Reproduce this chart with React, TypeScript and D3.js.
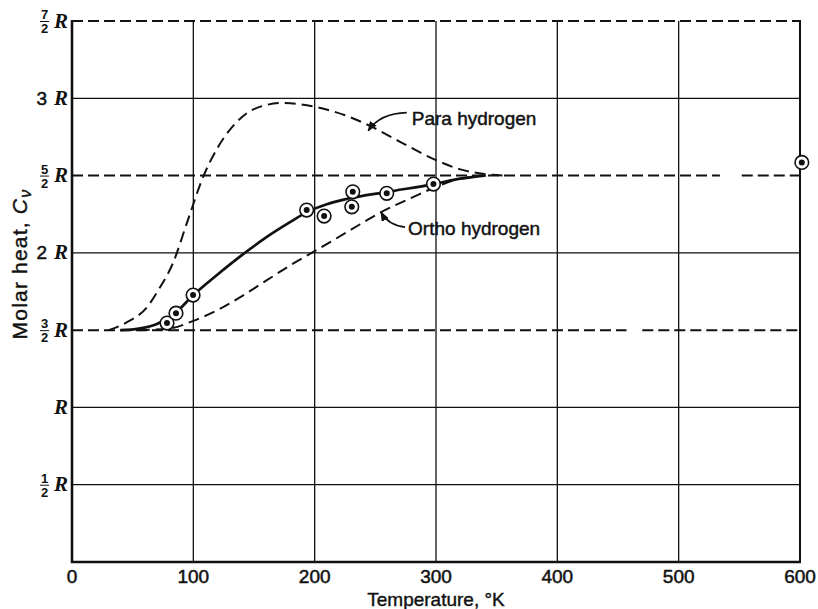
import React from 'react';
import * as d3 from 'd3';

const W = 818;
const H = 609;

// axis ticks
const xTicks = [0, 100, 200, 300, 400, 500, 600];
const yTickValues = [0.5, 1, 1.5, 2, 2.5, 3, 3.5];
const yTickNum = ['1', '', '3', '', '5', '', '7'];
const yTickDen = ['2', '', '2', '', '2', '', '2'];
const yTickWhole = ['', '', '', '2', '', '3', ''];
const dashedLevels = [1.5, 2.5, 3.5];
const solidLevels = [0.5, 1, 2, 3];
const vGrid = [100, 200, 300, 400, 500];

// Para hydrogen (dashed)
const paraT = [30, 45, 62, 72, 83, 95, 108, 120, 135, 150, 174, 200, 225, 246, 270, 300, 320, 340, 355];
const paraC = [1.5, 1.55, 1.65, 1.77, 1.93, 2.2, 2.49, 2.68, 2.84, 2.93, 2.97, 2.945, 2.89, 2.82, 2.72, 2.6, 2.54, 2.51, 2.5];

// Ortho hydrogen (dashed)
const orthoT = [55, 80, 100, 120, 138, 160, 180, 202, 230, 254, 281, 301, 320, 345];
const orthoC = [1.5, 1.51, 1.56, 1.63, 1.71, 1.82, 1.92, 2.02, 2.15, 2.26, 2.36, 2.43, 2.48, 2.5];

// Normal hydrogen (solid)
const normalT = [40, 55, 70, 85, 100, 120, 140, 160, 180, 194, 210, 227, 260, 298, 320, 340];
const normalC = [1.5, 1.51, 1.54, 1.61, 1.727, 1.86, 1.985, 2.1, 2.2, 2.265, 2.315, 2.35, 2.395, 2.445, 2.48, 2.5];

// measured points
const pointsT = [78.3, 85.7, 99.8, 193.4, 207.8, 231.4, 230.6, 259.4, 297.9, 601.5];
const pointsC = [1.546, 1.61, 1.727, 2.277, 2.238, 2.395, 2.298, 2.385, 2.445, 2.585];

// annotations (data coordinates)
const paraLabel = { t: 280, c: 2.827, text: 'Para hydrogen' };
const paraArrow = [[275.9, 2.907], [253.8, 2.903], [244.2, 2.79]];
const orthoLabel = { t: 277, c: 2.115, text: 'Ortho hydrogen' };
const orthoArrow = [[274.5, 2.167], [260.4, 2.18], [254.7, 2.264]];

// gaps in the printed dashed lines
const levelGaps: Record<string, number[][]> = { '2.5': [[534, 552]], '1.5': [[457, 470]] };

const x = d3.scaleLinear().domain([0, 600]).range([72, 800]);
const y = d3.scaleLinear().domain([0, 3.5]).range([562, 21]);

const line = d3
  .line<number[]>()
  .x((d) => x(d[0]))
  .y((d) => y(d[1]))
  .curve(d3.curveMonotoneX);

const zip = (a: number[], b: number[]) => a.map((v, i) => [v, b[i]]);

const quad = (p: number[][]) =>
  `M${x(p[0][0])},${y(p[0][1])} Q${x(p[1][0])},${y(p[1][1])} ${x(p[2][0])},${y(p[2][1])}`;

const sans = "'Liberation Sans', Arial, sans-serif";
const serif = "'Liberation Serif', 'Times New Roman', serif";

function segments(level: number): number[][] {
  const gaps = levelGaps[String(level)] || [];
  const segs: number[][] = [];
  let start = 0;
  gaps.forEach((g) => {
    segs.push([start, g[0]]);
    start = g[1];
  });
  segs.push([start, 600]);
  return segs;
}

export default function App() {
  const ink = '#111';
  return (
    <svg
      width={W}
      height={H}
      viewBox={`0 0 ${W} ${H}`}
      style={{ position: 'absolute', left: 0, top: 0, background: '#fff' }}
    >
      <defs>
        <marker id="ah" viewBox="0 0 10 8" refX="9" refY="4" markerWidth="10" markerHeight="8" markerUnits="userSpaceOnUse" orient="auto">
          <path d="M0,0 L10,4 L0,8 z" fill={ink} />
        </marker>
      </defs>
      <rect x={0} y={0} width={W} height={H} fill="#fff" />

      {/* vertical grid */}
      {vGrid.map((t) => (
        <line key={'v' + t} x1={x(t)} x2={x(t)} y1={y(3.5)} y2={y(0)} stroke={ink} strokeWidth={1.3} />
      ))}
      {/* solid horizontal grid */}
      {solidLevels.map((v) => (
        <line key={'h' + v} x1={x(0)} x2={x(600)} y1={y(v)} y2={y(v)} stroke={ink} strokeWidth={1.3} />
      ))}
      {/* dashed horizontal lines */}
      {dashedLevels.map((v) =>
        segments(v).map((s, i) => (
          <line
            key={'d' + v + '-' + i}
            x1={x(s[0])}
            x2={x(s[1])}
            y1={y(v)}
            y2={y(v)}
            stroke={ink}
            strokeWidth={2}
            strokeDasharray="11,5"
          />
        ))
      )}

      {/* axes / frame */}
      <line x1={x(0)} x2={x(0)} y1={y(3.5) - 1} y2={y(0) + 1} stroke={ink} strokeWidth={2.6} />
      <line x1={x(0) - 1} x2={x(600) + 1} y1={y(0)} y2={y(0)} stroke={ink} strokeWidth={2.6} />
      <line x1={x(600)} x2={x(600)} y1={y(3.5) - 1} y2={y(0)} stroke={ink} strokeWidth={2} />

      {/* curves */}
      <path d={line(zip(paraT, paraC)) || ''} fill="none" stroke={ink} strokeWidth={2} strokeDasharray="11,6" />
      <path d={line(zip(orthoT, orthoC)) || ''} fill="none" stroke={ink} strokeWidth={2} strokeDasharray="11,6" />
      <path d={line(zip(normalT, normalC)) || ''} fill="none" stroke={ink} strokeWidth={2.7} />

      {/* points */}
      {pointsT.map((t, i) => (
        <g key={'p' + i}>
          <circle cx={x(t)} cy={y(pointsC[i])} r={6.8} fill="#fff" stroke={ink} strokeWidth={1.6} />
          <circle cx={x(t)} cy={y(pointsC[i])} r={3} fill={ink} />
        </g>
      ))}

      {/* annotations */}
      <path d={quad(paraArrow)} fill="none" stroke={ink} strokeWidth={1.8} markerEnd="url(#ah)" />
      <text x={x(paraLabel.t)} y={y(paraLabel.c)} fontFamily={sans} fontSize={19} fill={ink} stroke={ink} strokeWidth={0.45}>
        {paraLabel.text}
      </text>
      <path d={quad(orthoArrow)} fill="none" stroke={ink} strokeWidth={1.8} markerEnd="url(#ah)" />
      <text x={x(orthoLabel.t)} y={y(orthoLabel.c)} fontFamily={sans} fontSize={19} fill={ink} stroke={ink} strokeWidth={0.45}>
        {orthoLabel.text}
      </text>

      {/* x tick labels */}
      {xTicks.map((t) => (
        <text key={'xt' + t} x={x(t)} y={583} textAnchor="middle" fontFamily={sans} fontSize={19} fill={ink} stroke={ink} strokeWidth={0.5}>
          {t}
        </text>
      ))}
      <text x={x(300)} y={606} textAnchor="middle" fontFamily={sans} fontSize={19} fill={ink} stroke={ink} strokeWidth={0.4}>
        Temperature, °K
      </text>

      {/* y tick labels */}
      {yTickValues.map((v, i) => {
        const yy = y(v);
        return (
          <g key={'yt' + v}>
            <text x={68} y={yy + 6.5} textAnchor="end" fontFamily={serif} fontStyle="italic" fontWeight="bold" fontSize={21} fill={ink}>
              R
            </text>
            {yTickNum[i] && (
              <g>
                <text x={44.5} y={yy - 2} textAnchor="middle" fontFamily={sans} fontWeight="bold" fontSize={13} fill={ink}>
                  {yTickNum[i]}
                </text>
                <line x1={40} x2={49} y1={yy + 0.5} y2={yy + 0.5} stroke={ink} strokeWidth={1} />
                <text x={44.5} y={yy + 12} textAnchor="middle" fontFamily={sans} fontWeight="bold" fontSize={13} fill={ink}>
                  {yTickDen[i]}
                </text>
              </g>
            )}
            {yTickWhole[i] && (
              <text x={47} y={yy + 6.5} textAnchor="end" fontFamily={sans} fontSize={19} fill={ink} stroke={ink} strokeWidth={0.5}>
                {yTickWhole[i]}
              </text>
            )}
          </g>
        );
      })}

      {/* y axis title */}
      <text
        transform={`translate(27,${264}) rotate(-90)`}
        textAnchor="middle"
        fontFamily={sans}
        fontSize={21}
        letterSpacing={1.2}
        fill={ink}
        stroke={ink}
        strokeWidth={0.4}
      >
        Molar heat,{' '}
        <tspan fontStyle="italic">C</tspan>
        <tspan fontStyle="italic" fontSize={16} dy={4}>
          ν
        </tspan>
      </text>
    </svg>
  );
}
